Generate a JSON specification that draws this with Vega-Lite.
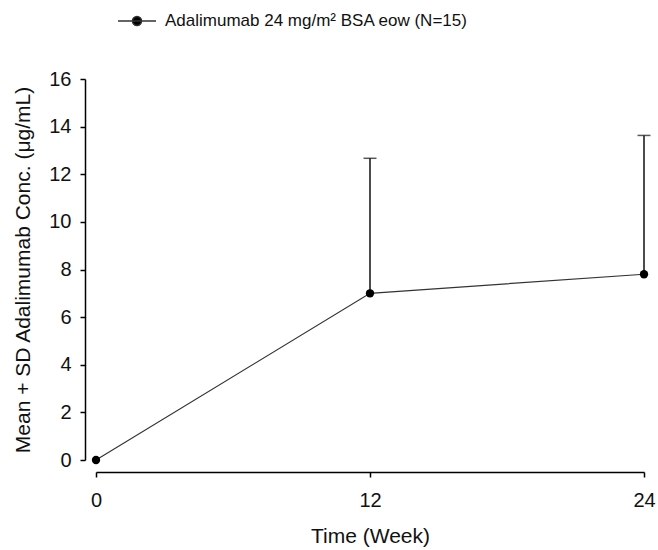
{
  "$schema": "https://vega.github.io/schema/vega-lite/v6.json",
  "width": 548,
  "height": 381,
  "autosize": {"type": "none"},
  "padding": {"left": 96, "top": 79, "right": 14, "bottom": 90},
  "background": "white",
  "config": {
    "view": {"stroke": null},
    "font": "Liberation Sans",
    "axis": {
      "labelFont": "Liberation Sans",
      "titleFont": "Liberation Sans",
      "labelFontSize": 20,
      "titleFontSize": 21,
      "titleFontWeight": "normal",
      "labelColor": "#111",
      "titleColor": "#111",
      "domainColor": "#000",
      "domainWidth": 1.5,
      "tickColor": "#000",
      "tickWidth": 1.5,
      "tickSize": 5,
      "labelFlush": false,
      "grid": false
    }
  },
  "data": {
    "values": [
      {"week": 0, "mean": 0.0, "upper": 0.0, "series": "Adalimumab 24 mg/m² BSA eow (N=15)"},
      {"week": 12, "mean": 7.0, "upper": 12.67, "series": "Adalimumab 24 mg/m² BSA eow (N=15)"},
      {"week": 24, "mean": 7.8, "upper": 13.63, "series": "Adalimumab 24 mg/m² BSA eow (N=15)"}
    ]
  },
  "encoding": {
    "x": {
      "field": "week",
      "type": "quantitative",
      "scale": {"domain": [0, 24], "nice": false, "zero": false},
      "axis": {"values": [0, 12, 24], "title": "Time (Week)", "offset": 12, "labelPadding": 13, "titlePadding": 15}
    }
  },
  "layer": [
    {
      "mark": {"type": "rule", "color": "#111", "strokeWidth": 1.5},
      "transform": [{"filter": "datum.week > 0"}],
      "encoding": {
        "y": {"field": "mean", "type": "quantitative"},
        "y2": {"field": "upper"}
      }
    },
    {
      "mark": {"type": "tick", "color": "#111", "thickness": 1.5, "size": 13, "orient": "horizontal"},
      "transform": [{"filter": "datum.week > 0"}],
      "encoding": {
        "y": {"field": "upper", "type": "quantitative"}
      }
    },
    {
      "mark": {"type": "line", "strokeWidth": 1.2},
      "encoding": {
        "y": {
          "field": "mean",
          "type": "quantitative",
          "scale": {"domain": [0, 16], "nice": false},
          "axis": {"values": [0, 2, 4, 6, 8, 10, 12, 14, 16], "title": "Mean + SD Adalimumab Conc. (μg/mL)", "offset": 11, "labelPadding": 9, "titlePadding": 15}
        },
        "stroke": {
          "field": "series",
          "type": "nominal",
          "scale": {"range": ["#333333"]},
          "legend": {
            "title": null,
            "orient": "none",
            "legendX": 21,
            "legendY": -78,
            "symbolType": "M-1,0H1M-0.24,0A0.24,0.24,0,1,1,0.24,0A0.24,0.24,0,1,1,-0.24,0Z",
            "symbolSize": 1444,
            "symbolFillColor": "#000",
            "symbolStrokeWidth": 1.5,
            "labelFontSize": 17,
            "labelFont": "Liberation Sans",
            "labelColor": "#111",
            "labelOffset": 8,
            "labelLimit": 500
          }
        }
      }
    },
    {
      "mark": {"type": "point", "filled": true, "color": "#000", "size": 70, "opacity": 1},
      "encoding": {
        "y": {"field": "mean", "type": "quantitative"}
      }
    }
  ]
}
